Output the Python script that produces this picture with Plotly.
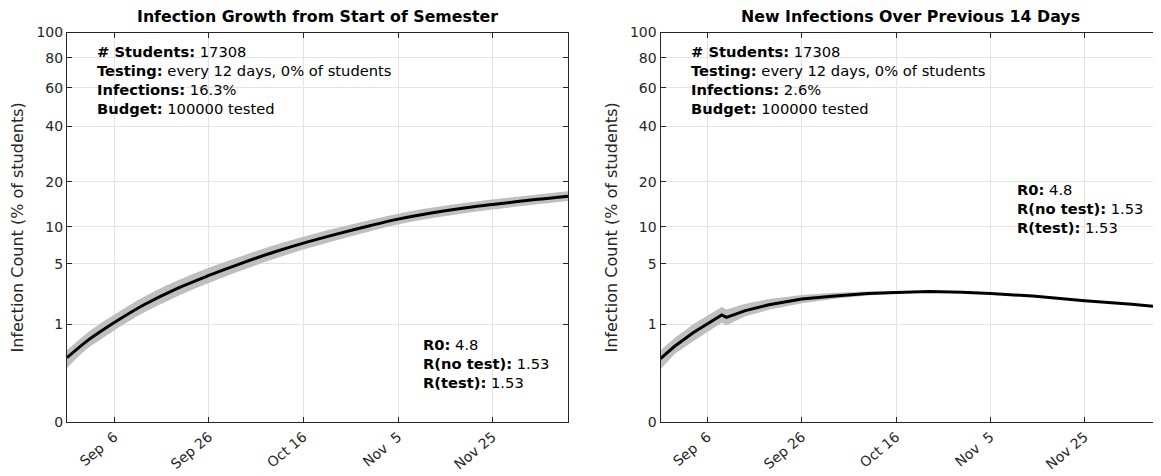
import plotly.graph_objects as go

# ---------------- data ----------------
left_dates = ["2020-08-27", "2020-08-31", "2020-09-04", "2020-09-06", "2020-09-12", "2020-09-19",
              "2020-09-26", "2020-10-03", "2020-10-10", "2020-10-16", "2020-10-23", "2020-10-30",
              "2020-11-05", "2020-11-12", "2020-11-19", "2020-11-25", "2020-12-04", "2020-12-11"]
left_mid = [0.25, 0.52, 0.86, 1.065, 1.80, 2.79, 3.86, 5.06, 6.36, 7.50, 8.83, 10.21,
            11.40, 12.57, 13.60, 14.36, 15.49, 16.29]
left_hi = [0.36, 0.71, 1.14, 1.37, 2.24, 3.37, 4.58, 5.86, 7.25, 8.44, 9.81, 11.23,
           12.45, 13.66, 14.71, 15.49, 16.65, 17.50]
left_lo = [0.14, 0.37, 0.64, 0.81, 1.43, 2.28, 3.23, 4.33, 5.55, 6.63, 7.91, 9.26,
           10.40, 11.54, 12.55, 13.29, 14.38, 15.15]

right_dates = ["2020-08-27", "2020-08-30", "2020-09-03", "2020-09-06", "2020-09-09", "2020-09-10",
               "2020-09-14", "2020-09-19", "2020-09-26", "2020-10-03", "2020-10-10", "2020-10-16",
               "2020-10-23", "2020-10-30", "2020-11-05", "2020-11-14", "2020-11-25", "2020-12-05",
               "2020-12-11"]
right_mid = [0.24, 0.43, 0.75, 1.02, 1.36, 1.26, 1.55, 1.84, 2.15, 2.34, 2.49, 2.565,
             2.63, 2.58, 2.50, 2.33, 2.05, 1.87, 1.72]
right_hi = [0.36, 0.61, 1.01, 1.34, 1.72, 1.60, 1.89, 2.15, 2.40, 2.54, 2.63, 2.64,
            2.65, 2.58, 2.50, 2.33, 2.05, 1.87, 1.72]
right_lo = [0.13, 0.30, 0.54, 0.77, 1.06, 0.97, 1.30, 1.59, 1.92, 2.17, 2.37, 2.49,
            2.61, 2.58, 2.50, 2.33, 2.05, 1.87, 1.72]

y_tick_vals = [0, 1, 5, 10, 20, 40, 60, 80, 100]
x_tick_dates = ["2020-09-06", "2020-09-26", "2020-10-16", "2020-11-05", "2020-11-25"]
x_tick_text = ["Sep\u00a0\u00a06", "Sep 26", "Oct 16", "Nov\u00a0\u00a05", "Nov 25"]
x_range = ["2020-08-27", "2020-12-11"]

titles = ["Infection Growth from Start of Semester", "New Infections Over Previous 14 Days"]
info_left = ["<b># Students:</b> 17308", "<b>Testing:</b> every 12 days, 0% of students",
             "<b>Infections:</b> 16.3%", "<b>Budget:</b> 100000 tested"]
info_right = ["<b># Students:</b> 17308", "<b>Testing:</b> every 12 days, 0% of students",
              "<b>Infections:</b> 2.6%", "<b>Budget:</b> 100000 tested"]
r_info = ["<b>R0:</b> 4.8", "<b>R(no test):</b> 1.53", "<b>R(test):</b> 1.53"]

# power scale (y^0.3) used by the original chart
P = 0.3


def sc(vals):
    return [v ** P for v in vals]


# ---------------- figure ----------------
# the page body has an 8px margin, so the figure is drawn 8px smaller and
# all target pixel positions are shifted by that offset
OFF = 8
W, H = 1161 - OFF, 476 - OFF
FONT = "DejaVu Sans"
TXT = "#262626"


def px(x):
    return (x - OFF) / W


def py(y):
    return (H - (y - OFF)) / H


fig = go.Figure()

panels = [
    dict(x=left_dates, mid=left_mid, hi=left_hi, lo=left_lo, xa="x", ya="y", shape="spline"),
    dict(x=right_dates, mid=right_mid, hi=right_hi, lo=right_lo, xa="x2", ya="y2", shape="linear"),
]
for p in panels:
    fig.add_trace(go.Scatter(x=p["x"], y=sc(p["lo"]), mode="lines", line=dict(width=0, shape=p["shape"]),
                             xaxis=p["xa"], yaxis=p["ya"], showlegend=False, hoverinfo="skip"))
    fig.add_trace(go.Scatter(x=p["x"], y=sc(p["hi"]), mode="lines", line=dict(width=0, shape=p["shape"]),
                             fill="tonexty", fillcolor="#bfbfbf",
                             xaxis=p["xa"], yaxis=p["ya"], showlegend=False, hoverinfo="skip"))
    fig.add_trace(go.Scatter(x=p["x"], y=sc(p["mid"]), mode="lines",
                             line=dict(width=3, color="black", shape=p["shape"]),
                             xaxis=p["xa"], yaxis=p["ya"], showlegend=False))

ydom = [py(422.3), py(32.5)]
xdoms = [[px(67), px(568.3)], [px(660.5), px(1160)]]

common_x = dict(type="date", range=x_range, tickvals=x_tick_dates, ticktext=x_tick_text,
                tickangle=-40, showgrid=True, gridcolor="#e3e3e3", gridwidth=1,
                ticks="inside", ticklen=5, tickcolor=TXT, showline=True, linecolor=TXT,
                linewidth=1, mirror="ticks", zeroline=False, automargin=False,
                tickfont=dict(family=FONT, size=14, color=TXT))
common_y = dict(range=[0, 100 ** P], tickvals=sc(y_tick_vals), ticktext=[str(v) for v in y_tick_vals],
                showgrid=True, gridcolor="#e3e3e3", gridwidth=1,
                ticks="inside", ticklen=5, tickcolor=TXT, showline=True, linecolor=TXT,
                linewidth=1, mirror="ticks", zeroline=False, automargin=False,
                tickfont=dict(family=FONT, size=14, color=TXT),
                title=dict(text="Infection Count (% of students)", standoff=8,
                           font=dict(family=FONT, size=16, color=TXT)))

fig.update_layout(
    width=W, height=H, margin=dict(l=0, r=0, t=0, b=0),
    paper_bgcolor="white", plot_bgcolor="white",
    xaxis=dict(domain=xdoms[0], anchor="y", **common_x),
    yaxis=dict(domain=ydom, anchor="x", **common_y),
    xaxis2=dict(domain=xdoms[1], anchor="y2", **common_x),
    yaxis2=dict(domain=ydom, anchor="x2", **common_y),
    font=dict(family=FONT, color=TXT),
)

annots = []
for i, t in enumerate(titles):
    cx = (xdoms[i][0] + xdoms[i][1]) / 2
    annots.append(dict(text=f"<b>{t}</b>", x=cx, y=py(16.5), xref="paper", yref="paper",
                       xanchor="center", yanchor="middle", showarrow=False,
                       font=dict(family=FONT, size=15.8, color="black")))


def block(lines, xpx, ytop_px):
    return dict(text="<br>".join(lines), x=px(xpx), y=py(ytop_px), xref="paper", yref="paper",
                xanchor="left", yanchor="top", align="left", showarrow=False,
                font=dict(family=FONT, size=14.7, color="black"))


annots.append(block(info_left, 95, 41))
annots.append(block(r_info, 421, 334))
annots.append(block(info_right, 689, 41))
annots.append(block(r_info, 1015, 179))
fig.update_layout(annotations=annots)

fig.write_html("out.html")
